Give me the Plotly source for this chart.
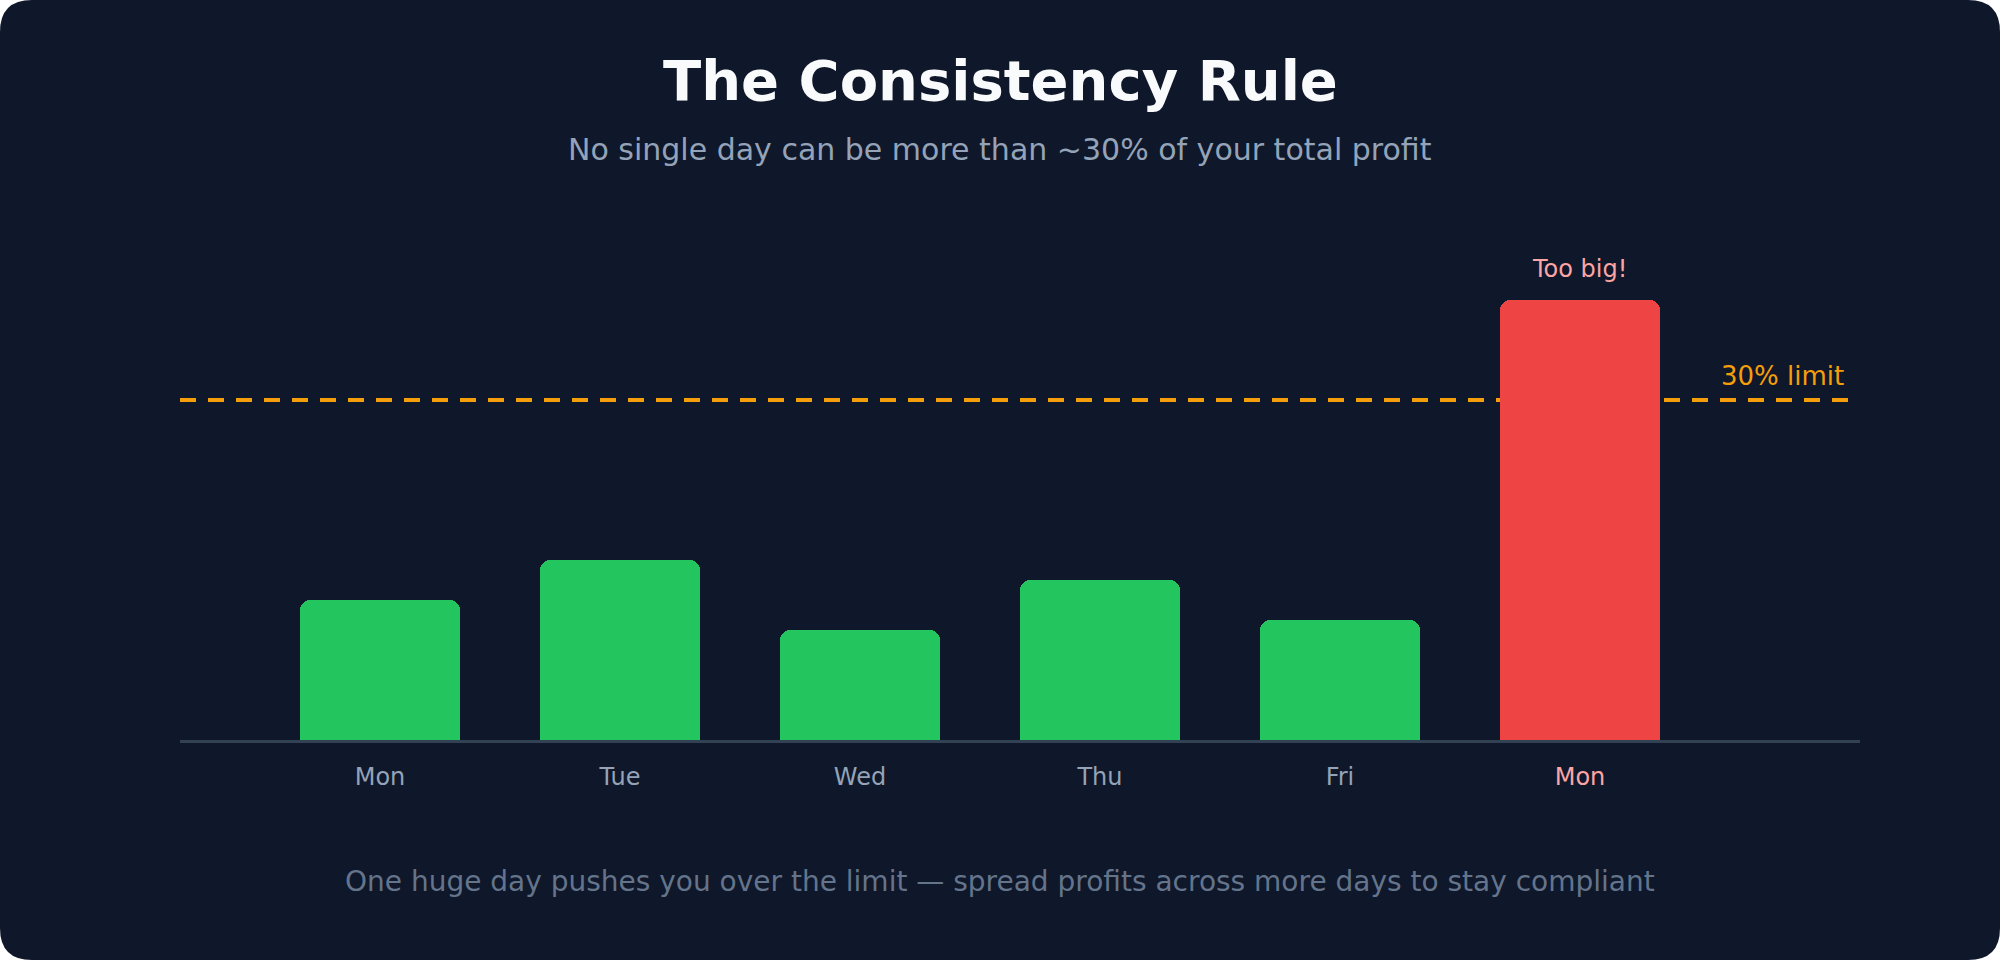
import plotly.graph_objects as go

# data
days = ["Mon", "Tue", "Wed", "Thu", "Fri", "Mon"]
profits = [1400, 1800, 1100, 1600, 1200, 4400]
limit_value = 3400
over_limit = [False, False, False, False, False, True]

title = "The Consistency Rule"
subtitle = "No single day can be more than ~30% of your total profit"
footer = "One huge day pushes you over the limit \u2014 spread profits across more days to stay compliant"

# colors
BG = "#0f172a"
GREEN = "#22c55e"
RED = "#ef4444"
PINK = "#fca5a5"
AMBER = "#f59e0b"
MUTED = "#94a3b8"
DIM = "#64748b"
FONT = "DejaVu Sans"

# page geometry (pixels)
W, H = 2000, 960
ML, MR, MT, MB = 180, 140, 100, 220
PW, PH = W - ML - MR, H - MT - MB
CX = (W / 2 - ML) / PW   # page centre in paper units

x = list(range(len(days)))
colors = [RED if o else GREEN for o in over_limit]
ticktext = [f"<span style='color:{PINK}'>{d}</span>" if o else d
            for d, o in zip(days, over_limit)]

fig = go.Figure()

fig.add_trace(go.Bar(
    x=x, y=profits,
    width=0.6667,
    marker=dict(color=colors, cornerradius=10, line=dict(width=0)),
    hoverinfo="skip",
    showlegend=False,
))

# rounded card behind everything
rx, ry = 32 / PW, 32 / PH
X0, X1 = -ML / PW, (W - ML) / PW
Y0, Y1 = -MB / PH, (H - MB) / PH
card = (f"M {X0+rx},{Y1} L {X1-rx},{Y1} Q {X1},{Y1} {X1},{Y1-ry} "
        f"L {X1},{Y0+ry} Q {X1},{Y0} {X1-rx},{Y0} "
        f"L {X0+rx},{Y0} Q {X0},{Y0} {X0},{Y0+ry} "
        f"L {X0},{Y1-ry} Q {X0},{Y1} {X0+rx},{Y1} Z")
fig.add_shape(type="path", path=card, xref="paper", yref="paper",
              fillcolor=BG, line=dict(width=0), layer="below")

# 30% limit line
x_lo, x_hi = -0.8333, 6.1167
fig.add_shape(type="line", xref="x", yref="y",
              x0=x_lo, x1=x_hi, y0=limit_value, y1=limit_value,
              line=dict(color=AMBER, width=4, dash="16px,12px"),
              layer="below")

fig.add_annotation(x=x_hi, y=limit_value, xref="x", yref="y",
                   text="30% limit", showarrow=False,
                   xanchor="right", yanchor="middle", yshift=24, xshift=-2,
                   font=dict(family=FONT, size=26, color=AMBER))

# label over the big day
big = over_limit.index(True)
fig.add_annotation(x=big, y=profits[big], xref="x", yref="y",
                   text="Too big!", showarrow=False,
                   xanchor="center", yanchor="middle", yshift=31,
                   font=dict(family=FONT, size=24, color=PINK))

# title, subtitle, footer
fig.add_annotation(x=CX, y=(MT + PH - 81) / PH, xref="paper", yref="paper",
                   text=title, showarrow=False, xanchor="center", yanchor="middle",
                   font=dict(family=FONT, size=56, color="#f8fafc", weight=700))
fig.add_annotation(x=CX, y=(MT + PH - 149) / PH, xref="paper", yref="paper",
                   text=subtitle, showarrow=False, xanchor="center", yanchor="middle",
                   font=dict(family=FONT, size=30, color=MUTED))
fig.add_annotation(x=CX, y=(MT + PH - 881) / PH, xref="paper", yref="paper",
                   text=footer, showarrow=False, xanchor="center", yanchor="middle",
                   font=dict(family=FONT, size=28, color=DIM))

fig.update_layout(
    width=W, height=H,
    margin=dict(l=ML, r=MR, t=MT, b=MB, pad=0),
    paper_bgcolor="#ffffff",
    plot_bgcolor="rgba(0,0,0,0)",
    bargap=0,
    xaxis=dict(
        range=[x_lo, 6.1667],
        tickvals=x, ticktext=ticktext,
        tickfont=dict(family=FONT, size=24, color=MUTED),
        showgrid=False, zeroline=False,
        showline=True, linecolor="#334155", linewidth=3,
        ticks="", ticklabelstandoff=13,
        layer="below traces",
        fixedrange=True,
    ),
    yaxis=dict(
        range=[0, PH * 10],
        visible=False, showgrid=False, zeroline=False,
        fixedrange=True,
    ),
)

fig.write_html("out.html", config={"displayModeBar": False},
               post_script="document.body.style.margin='0';")
